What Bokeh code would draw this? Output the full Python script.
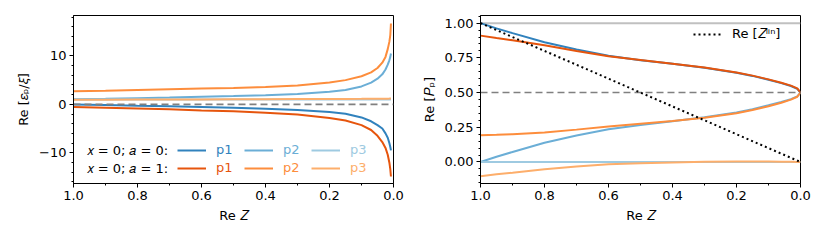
from bokeh.plotting import figure
from bokeh.models import (Range1d, Legend, LegendItem, Label, FixedTicker,
                          CustomJSTickFormatter)
from bokeh.layouts import row
from bokeh.embed import file_html
from bokeh.resources import INLINE

# ---------------- data ----------------
# left panel: Re[eps_p / xi] vs Re Z
z_left = [1.0, 0.9, 0.8, 0.7, 0.6, 0.5, 0.4, 0.3, 0.2, 0.15, 0.1, 0.07,
          0.05, 0.035, 0.025, 0.018, 0.013, 0.01, 0.008]
eps_a0_p1 = [-0.05, -0.15, -0.28, -0.4, -0.55, -0.7, -0.9, -1.15, -1.6, -1.95,
             -2.7, -3.5, -4.3, -5.0, -6.0, -6.9, -8.0, -8.8, -9.5]
eps_a0_p2 = [1.05, 1.15, 1.28, 1.4, 1.55, 1.7, 1.9, 2.15, 2.6, 2.95, 3.7, 4.5,
             5.3, 6.2, 7.2, 8.2, 9.1, 9.8, 10.5]
eps_a0_p3 = [1.0, 1.0, 1.0, 1.0, 1.0, 1.0, 1.0, 1.0, 1.0, 1.0, 1.0, 1.0,
             1.0, 1.0, 1.0, 1.0, 1.0, 1.0, 1.0]
eps_a1_p1 = [-0.55, -0.7, -0.85, -1.0, -1.25, -1.45, -1.75, -2.1, -2.8, -3.35,
             -4.3, -5.3, -6.5, -7.8, -9.0, -10.4, -12.0, -13.4, -14.9]
eps_a1_p2 = [2.7, 2.8, 2.95, 3.1, 3.25, 3.4, 3.6, 3.9, 4.5, 5.0, 5.8, 6.6,
             7.5, 8.6, 9.8, 11.4, 12.9, 14.3, 16.7]
eps_a1_p3 = [0.95, 0.97, 0.99, 1.0, 1.02, 1.04, 1.06, 1.08, 1.1, 1.12, 1.13,
             1.14, 1.15, 1.16, 1.17, 1.18, 1.19, 1.2, 1.2]
eps_zero = [0.0, 0.0]
z_ends = [1.0, 0.0]

# right panel: Re[P_p] vs Re Z
z_right = [1.0, 0.95, 0.9, 0.8, 0.7, 0.6, 0.5, 0.4, 0.3, 0.2, 0.15, 0.1,
           0.06, 0.03, 0.01, 0.0]
P_a0_p1 = [1.0, 0.962, 0.928, 0.862, 0.81, 0.765, 0.733, 0.707, 0.678, 0.643,
           0.62, 0.592, 0.568, 0.547, 0.527, 0.5]
P_a0_p2 = [0.0, 0.038, 0.072, 0.138, 0.19, 0.235, 0.267, 0.293, 0.322, 0.357,
           0.38, 0.408, 0.432, 0.453, 0.473, 0.5]
P_a0_p3 = [0.0] * 16
P_a1_p1 = [0.91, 0.893, 0.877, 0.84, 0.8, 0.762, 0.735, 0.708, 0.68, 0.645,
           0.622, 0.595, 0.571, 0.55, 0.53, 0.5]
P_a1_p2 = [0.193, 0.196, 0.2, 0.212, 0.233, 0.255, 0.275, 0.295, 0.318, 0.351,
           0.375, 0.402, 0.427, 0.449, 0.47, 0.5]
P_a1_p3 = [-0.103, -0.089, -0.077, -0.052, -0.033, -0.017, -0.01, -0.003,
           0.002, 0.004, 0.003, 0.003, 0.002, 0.001, 0.0, 0.0]
P_sum = [1.0, 1.0]
P_half = [0.5, 0.5]
Z_lin = [1.0, 0.0]

x_ticks = [0.0, 0.2, 0.4, 0.6, 0.8, 1.0]
x_minor = [0.1, 0.3, 0.5, 0.7, 0.9]
yl_ticks = [-10, 0, 10]
yr_ticks = [0.0, 0.25, 0.5, 0.75, 1.0]

series_labels = ["p1", "p2", "p3"]
row_labels = ["\U0001D465 = 0; \U0001D44E = 0:", "\U0001D465 = 0; \U0001D44E = 1:"]

# ---------------- style ----------------
FONT = "DejaVu Sans"
FS = "13px"
BLUES = ["#3182bd", "#6baed6", "#9ecae1"]
ORANGES = ["#e6550d", "#fd8d3c", "#fdae6b"]


def base_fig(width, bl, br, y_range, y_label):
    p = figure(width=width, height=233, output_backend="svg",
               toolbar_location=None, x_range=Range1d(1.0, 0.0),
               y_range=y_range, min_border_left=bl, min_border_right=br,
               min_border_top=15, min_border_bottom=50)
    p.xgrid.visible = False
    p.ygrid.visible = False
    p.outline_line_color = "black"
    p.outline_line_width = 1
    p.outline_line_alpha = 1
    for ax in (p.xaxis[0], p.yaxis[0]):
        ax.axis_line_color = "black"
        ax.major_tick_in = 0
        ax.major_tick_out = 4
        ax.minor_tick_in = 0
        ax.minor_tick_out = 2
        ax.major_tick_line_color = "black"
        ax.minor_tick_line_color = "black"
        ax.major_label_text_font = FONT
        ax.major_label_text_font_size = FS
        ax.major_label_text_color = "black"
        ax.axis_label_text_font = FONT
        ax.axis_label_text_font_size = FS
        ax.axis_label_text_font_style = "normal"
        ax.axis_label_text_color = "black"
        ax.major_label_standoff = 3
        ax.axis_label_standoff = 5
    p.xaxis.ticker = FixedTicker(ticks=x_ticks, minor_ticks=x_minor)
    p.xaxis.formatter = CustomJSTickFormatter(code="return tick.toFixed(1);")
    p.xaxis.axis_label = "Re \U0001D44D"
    p.yaxis.axis_label = y_label
    return p


# ---------------- left panel ----------------
pl = base_fig(408, 73, 15, Range1d(-16.35, 18.35), "Re [\U0001D700\u209A/\U0001D709]")
pl.yaxis.ticker = FixedTicker(ticks=yl_ticks,
                              minor_ticks=list(range(-16, 19, 2)))
pl.yaxis.formatter = CustomJSTickFormatter(
    code="return (tick < 0 ? '\u2212' : '') + Math.abs(tick).toFixed(0);")

left_sets = [[eps_a0_p1, eps_a0_p2, eps_a0_p3],
             [eps_a1_p1, eps_a1_p2, eps_a1_p3]]
left_rend = []
for cols, ys in zip([BLUES, ORANGES], left_sets):
    rr = []
    for c, y in zip(cols, ys):
        rr.append(pl.line(z_left, y, line_color=c, line_width=2))
    left_rend.append(rr)
pl.line(z_ends, eps_zero, line_color="gray", line_width=1.6, line_dash="7 4")

row_centers = [33, 15]
item_x = [104, 171, 238]
for r, (cols, rr) in enumerate(zip([BLUES, ORANGES], left_rend)):
    pl.add_layout(Label(x=13, y=row_centers[r], x_units="screen",
                        y_units="screen", text=row_labels[r],
                        text_font=FONT, text_font_size=FS,
                        text_baseline="middle", text_align="left",
                        text_color="black"))
    for k in range(3):
        lg = Legend(items=[LegendItem(label=series_labels[k],
                                      renderers=[rr[k]])],
                    location=(item_x[k], row_centers[r] - 7),
                    orientation="horizontal", glyph_width=29,
                    glyph_height=14, label_height=14, label_standoff=10,
                    padding=0, margin=0, spacing=0,
                    border_line_alpha=0, background_fill_alpha=0,
                    label_text_color=cols[k], label_text_font=FONT,
                    label_text_font_size=FS)
        pl.add_layout(lg)

# ---------------- right panel ----------------
pr = base_fig(418, 72, 26, Range1d(-0.155, 1.055), "Re [\U0001D443\u209A]")
pr.yaxis.ticker = FixedTicker(ticks=yr_ticks,
                              minor_ticks=[round(-0.15 + 0.05 * i, 2)
                                           for i in range(25)])
pr.yaxis.formatter = CustomJSTickFormatter(code="return tick.toFixed(2);")
right_sets = [[P_a0_p1, P_a0_p2, P_a0_p3], [P_a1_p1, P_a1_p2, P_a1_p3]]
pr.line(z_ends, P_sum, line_color="#c0c0c0", line_width=2)
for cols, ys in zip([BLUES, ORANGES], right_sets):
    for c, y in zip(cols, ys):
        pr.line(z_right, y, line_color=c, line_width=2)
pr.line(z_ends, P_half, line_color="gray", line_width=1.6, line_dash="7 4")
rlin = pr.line(z_ends, Z_lin, line_color="black", line_width=2,
               line_dash="2 3")
lg2 = Legend(items=[LegendItem(label="Re [\U0001D44D\u02E1\u2071\u207F]",
                               renderers=[rlin])],
             location=(213, 141), glyph_width=29, glyph_height=14,
             label_height=14, label_standoff=10, padding=0, margin=0,
             border_line_alpha=0, background_fill_alpha=0,
             label_text_color="black", label_text_font=FONT,
             label_text_font_size=FS)
pr.add_layout(lg2)

layout = row(pl, pr)
open("out.html", "w").write(file_html(layout, INLINE))
